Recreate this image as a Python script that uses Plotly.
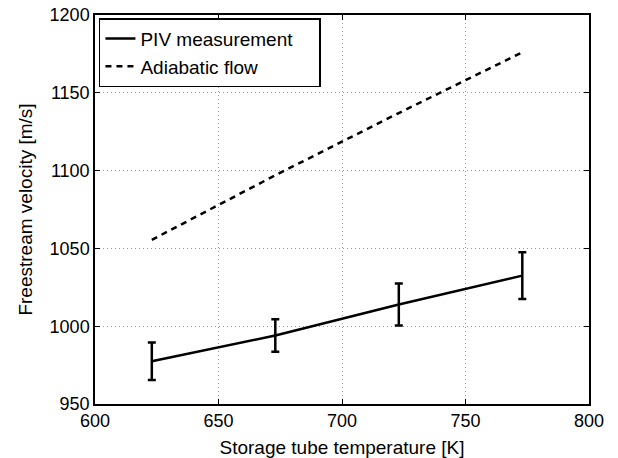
import plotly.graph_objects as go

temps = [623, 673, 723, 773]
piv_velocity = [977.5, 994, 1014, 1032.5]
piv_error = [12, 10.5, 13.5, 15]
adiabatic_velocity = [1055.5, 1097, 1137, 1176]
series_names = ["PIV measurement", "Adiabatic flow"]

x_ticks = [600, 650, 700, 750, 800]
y_ticks = [950, 1000, 1050, 1100, 1150, 1200]

font_family = "Liberation Sans, Arial, Helvetica, sans-serif"
fs = 18
pad = "\u00a0" * 4

fig = go.Figure()
fig.add_trace(go.Scatter(
    x=temps, y=piv_velocity, mode="lines", name=series_names[0] + pad,
    line=dict(color="black", width=2.5),
))
fig.add_trace(go.Scatter(
    x=temps, y=adiabatic_velocity, mode="lines", name=series_names[1],
    line=dict(color="black", width=2.5, dash="6px,5px"),
))
fig.add_trace(go.Scatter(
    x=temps, y=piv_velocity, mode="markers", showlegend=False,
    marker=dict(size=1, color="rgba(0,0,0,0)"),
    error_y=dict(type="data", array=piv_error, color="black", thickness=2.5, width=4),
    hoverinfo="skip",
))

axis_common = dict(
    showline=True, linecolor="black", linewidth=1.5, mirror="ticks",
    ticks="inside", ticklen=5, tickwidth=1, tickcolor="black",
    showgrid=True, gridcolor="#9a9a9a", gridwidth=1, griddash="1px,3px",
    zeroline=False, automargin=False,
    tickfont=dict(family=font_family, size=fs, color="black"),
    title_font=dict(family=font_family, size=19, color="black"),
)

fig.update_xaxes(
    range=[600, 800], tickvals=x_ticks, ticktext=[str(v) for v in x_ticks],
    title_text="Storage tube temperature [K]", title_standoff=10, **axis_common,
)
fig.update_yaxes(
    range=[950, 1200], tickvals=y_ticks, ticktext=[str(v) for v in y_ticks],
    title_text="Freestream velocity [m/s]", title_standoff=12, **axis_common,
)

fig.update_layout(
    width=618, height=458,
    margin=dict(l=95, r=29, t=15, b=54),
    paper_bgcolor="white", plot_bgcolor="white",
    font=dict(family=font_family, size=fs, color="black"),
    showlegend=True,
    legend=dict(
        x=0.008, y=0.992, xanchor="left", yanchor="top",
        bgcolor="white", bordercolor="black", borderwidth=1.5,
        font=dict(family=font_family, size=19, color="black"),
        tracegroupgap=0, itemwidth=30,
    ),
)

fig.write_html("out.html")
